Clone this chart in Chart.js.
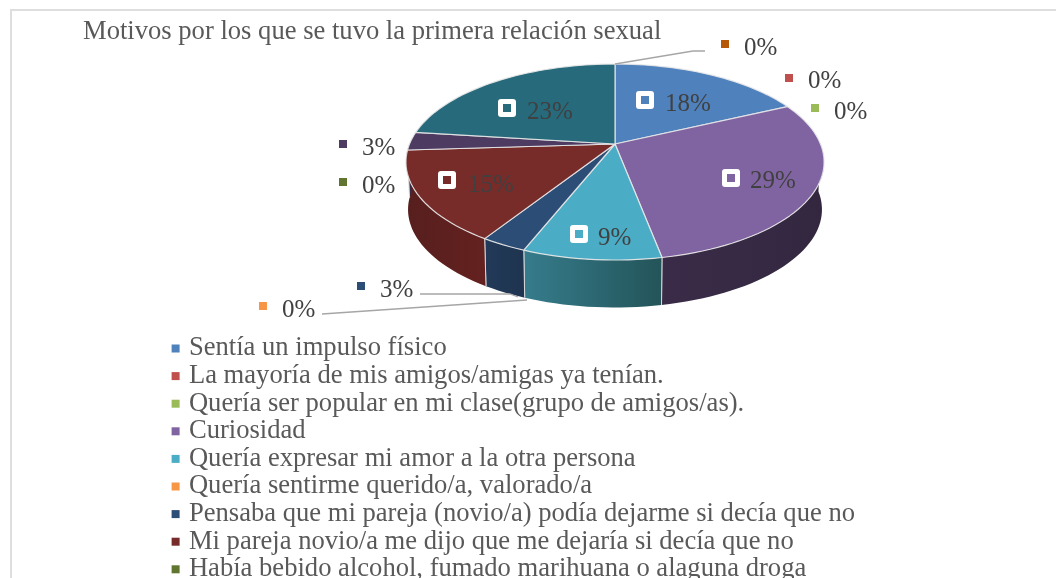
<!DOCTYPE html>
<html>
<head>
<meta charset="utf-8">
<script src="https://cdn.jsdelivr.net/npm/chart.js@4"></script>
<style>html,body{margin:0;padding:0;background:#fff;overflow:hidden}canvas{display:block}</style>
</head>
<body>
<canvas id="c" width="1056" height="578"></canvas>
<script>
const chartTitle = 'Motivos por los que se tuvo la primera relación sexual';
const categories = [
  'Sentía un impulso físico',
  'La mayoría de mis amigos/amigas ya tenían.',
  'Quería ser popular en mi clase(grupo de amigos/as).',
  'Curiosidad',
  'Quería expresar mi amor a la otra persona',
  'Quería sentirme querido/a, valorado/a',
  'Pensaba que mi pareja (novio/a) podía dejarme si decía que no',
  'Mi pareja novio/a me dijo que me dejaría si decía que no',
  'Había bebido alcohol, fumado marihuana o alaguna droga',
  '', '', ''
];
const values = [18, 0, 0, 29, 9, 0, 3, 15, 0, 3, 23, 0];
const sliceColors = ['#4F81BD','#C0504D','#9BBB59','#8064A2','#4BACC6','#F79646','#2C4D75','#772C2A','#5F7530','#4D3B62','#276A7C','#B65708'];
const wallLeftColors  = ['#3a5f8c','#8c3a38','#728a41','#3a2c48','#367c8c','#b46d32','#223a58','#561f1e','#465623','#382a47','#1c4d5a','#84400a'];
const wallRightColors = ['#3a5f8c','#8c3a38','#728a41','#332740','#235459','#b46d32','#1e3450','#64211f','#465623','#382a47','#1c4d5a','#84400a'];
// label placement: [marker x, marker y, text x, text baseline y]
const labelPlacement = [
  [645,100,665,111],[789,78,808,88],[815,108,834,119],[731,178,750,188],
  [579,234,598,245],[263,306,282,317],[361,286,380,297],[447,180,468,192],
  [343,182,362,193],[343,144,362,155],[507,108,527,119],[725,44,744,55]
];
const insideLabels = [true,false,false,true,true,false,false,true,false,false,true,false];
const leaderLines = [
  [[615,64],[693,51],[705,51]],
  [[322,314],[527,300]],
  [[420,294],[510,294],[518,297]]
];

// perspective projection of the pie circle
const P = {cx:615, cy:144, A:205.5, B:94.7, p:0.1837, depth:47.5, shrink:0.99};
function top3d(t){
  const u=Math.sin(t), v=-Math.cos(t), w=1-P.p*v;
  return [P.cx+P.A*u/w, P.cy+P.B*v/w];
}
function bottom3d(t){
  const q=top3d(t);
  return [P.cx+(q[0]-P.cx)*P.shrink, q[1]+P.depth];
}
function arcAngles(el){ return [el.startAngle+Math.PI/2, el.endAngle+Math.PI/2]; }

const pie3d = {
  id:'pie3d',
  beforeDraw(chart){
    const c=chart.ctx; c.save();
    c.fillStyle='#fff'; c.fillRect(0,0,chart.width,chart.height);
    c.strokeStyle='#dedede'; c.lineWidth=2;
    c.beginPath(); c.moveTo(chart.width+2,10); c.lineTo(11,10); c.lineTo(11,chart.height+2); c.stroke();
    c.restore();
  },
  afterLayout(chart){
    const t=chart.titleBlock; t.left=83; t.right=1000; t.top=16; t.bottom=50;
    const l=chart.legend; l.left=174.6; l.right=1000; l.top=334.2; l.bottom=900;
    // the legend markers straddle the box's left edge, so draw it unclipped
    l.draw=function(){ this._draw(); };
  },
  beforeDatasetDraw(chart){
    const c=chart.ctx, arcs=chart.getDatasetMeta(0).data, step=Math.PI/90;
    c.save(); c.lineJoin='round';
    // side walls
    arcs.forEach((el,i)=>{
      const [a0,b0]=arcAngles(el);
      const a=Math.max(a0,Math.PI/2), b=Math.min(b0,Math.PI*1.5);
      if(b<=a) return;
      const n=Math.max(2,Math.ceil((b-a)/step));
      const pts=[],bot=[];
      for(let k=0;k<=n;k++){const t=a+(b-a)*k/n; pts.push(top3d(t)); bot.push(bottom3d(t));}
      const xs=pts.map(q=>q[0]);
      c.beginPath();
      pts.forEach((q,k)=>k?c.lineTo(q[0],q[1]):c.moveTo(q[0],q[1]));
      bot.slice().reverse().forEach(q=>c.lineTo(q[0],q[1]));
      c.closePath();
      const g=c.createLinearGradient(Math.min(...xs),0,Math.max(...xs),0);
      g.addColorStop(0,wallLeftColors[i]); g.addColorStop(1,wallRightColors[i]);
      c.fillStyle=g; c.fill();
      // vertical edges only where a slice really ends
      c.strokeStyle='rgba(225,225,225,.9)'; c.lineWidth=1;
      if(a===a0){c.beginPath();c.moveTo(pts[0][0],pts[0][1]);c.lineTo(bot[0][0],bot[0][1]);c.stroke();}
      if(b===b0){c.beginPath();c.moveTo(pts[n][0],pts[n][1]);c.lineTo(bot[n][0],bot[n][1]);c.stroke();}
    });
    // top faces
    arcs.forEach((el,i)=>{
      const [a,b]=arcAngles(el);
      if(b-a<1e-6) return;
      const n=Math.max(2,Math.ceil((b-a)/step));
      c.beginPath(); c.moveTo(P.cx,P.cy);
      for(let k=0;k<=n;k++){const q=top3d(a+(b-a)*k/n); c.lineTo(q[0],q[1]);}
      c.closePath();
      c.fillStyle=sliceColors[i]; c.fill();
      c.strokeStyle='rgba(232,232,232,.9)'; c.lineWidth=1.2; c.stroke();
    });
    c.restore();
    return false;
  },
  afterDatasetsDraw(chart){
    const c=chart.ctx;
    c.save();
    c.strokeStyle='#a6a6a6'; c.lineWidth=1.3;
    leaderLines.forEach(l=>{c.beginPath(); l.forEach((q,k)=>k?c.lineTo(q[0],q[1]):c.moveTo(q[0],q[1])); c.stroke();});
    c.font='25px "Liberation Serif"'; c.textBaseline='alphabetic'; c.textAlign='left';
    values.forEach((v,i)=>{
      const [mx,my,tx,ty]=labelPlacement[i];
      if(insideLabels[i]){
        c.fillStyle='#fff'; c.beginPath(); c.roundRect(mx-9,my-9,18,18,3); c.fill();
      }
      c.fillStyle=sliceColors[i]; c.fillRect(mx-4,my-4,8,8);
      c.fillStyle='#404040'; c.fillText(v+'%',tx,ty);
    });
    c.restore();
  }
};

new Chart(document.getElementById('c'),{
  type:'pie',
  data:{labels:categories,datasets:[{data:values,backgroundColor:sliceColors,borderWidth:0,clip:false}]},
  plugins:[pie3d],
  options:{
    responsive:false, animation:false,
    layout:{padding:0},
    plugins:{
      tooltip:{enabled:false},
      title:{display:true,text:chartTitle,align:'start',position:'top',color:'#595959',padding:0,
             font:{family:'"Liberation Serif"',size:26.6,weight:'normal',lineHeight:1.2}},
      legend:{display:true,position:'chartArea',align:'start',
        labels:{color:'#595959',font:{family:'"Liberation Serif"',size:26.6},padding:1,
          usePointStyle:true,pointStyle:'rect',boxWidth:0.01,boxHeight:8,
          filter:item=>item.text!==''}}
    }
  }
});
</script>
</body>
</html>
